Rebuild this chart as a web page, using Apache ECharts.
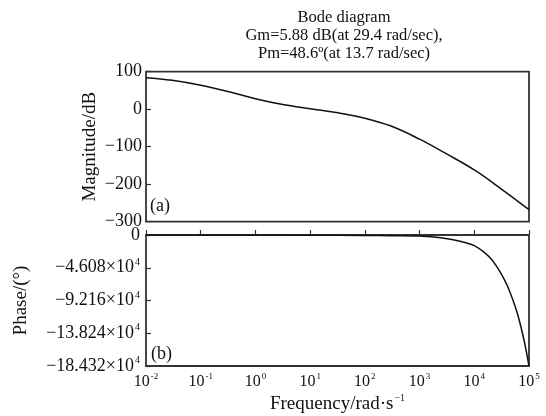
<!DOCTYPE html>
<html><head><meta charset="utf-8">
<script src="https://cdn.jsdelivr.net/npm/echarts@6/dist/echarts.min.js"></script>
<style>html,body{margin:0;padding:0;background:#fff}#c{width:546px;height:416px}</style>
</head><body><div id="c"></div>
<script>
var titleLines = ['Bode diagram', 'Gm=5.88 dB(at 29.4 rad/sec),', 'Pm=48.6\u00ba(at 13.7 rad/sec)'];
var magFreq = [0.01, 0.03, 0.1, 0.3, 1, 3, 10, 30, 100, 300, 1000, 3000, 10000, 30000, 100000];
var magDb   = [84, 77, 64, 48, 28, 13, 1, -9, -24, -45, -80, -118, -162, -211, -268];
var phFreq  = [0.01, 0.1, 1, 10, 100, 300, 1000, 2000, 3000, 5000, 7000, 10000, 15000, 20000, 25000, 30000, 40000, 50000, 60000, 70000, 80000, 90000, 100000];
var phDeg   = [0, 0, -60, -300, -700, -1000, -1500, -3200, -5000, -8200, -11000, -15000, -24000, -33000, -43000, -52500, -71000, -90000, -108000, -127000, -146000, -165000, -184320];
var magTicks = [-300, -200, -100, 0, 100];
var phTicks = [-184320, -138240, -92160, -46080, 0];
var phLabels = {'0': '0', '-46080': '\u22124.608', '-92160': '\u22129.216', '-138240': '\u221213.824', '-184320': '\u221218.432'};

var FONT = 'Liberation Serif';
var chart = echarts.init(document.getElementById('c'), null, {renderer: 'canvas'});
function expLabel(v) {
  var e = Math.round(Math.log10(v));
  return '{b|10}{s|' + (e < 0 ? '-' + (-e) : e) + '}';
}
var richX = {
  b: {fontFamily: FONT, fontSize: 16, color: '#111'},
  s: {fontFamily: FONT, fontSize: 9, color: '#111', padding: [0, 0, 10, 1]}
};
var richY = {
  b: {fontFamily: FONT, fontSize: 18, color: '#111'},
  s: {fontFamily: FONT, fontSize: 10, color: '#111', padding: [0, 0, 11, 1]}
};
var richN = {
  b: {fontFamily: FONT, fontSize: 19, color: '#111'},
  s: {fontFamily: FONT, fontSize: 10, color: '#111', padding: [0, 0, 12, 1]}
};
var gridBase = {left: 146, right: 17, show: true, borderColor: '#333', borderWidth: 1.8, backgroundColor: 'transparent'};
var tickStyle = {show: true, inside: true, length: 5, lineStyle: {color: '#333', width: 1.2}};
chart.setOption({
  animation: false,
  textStyle: {fontFamily: FONT},
  title: {
    text: titleLines.join('\n'), left: 339, top: 4, textAlign: 'center',
    textStyle: {fontFamily: FONT, fontSize: 16.5, fontWeight: 'normal', color: '#111', lineHeight: 18}
  },
  grid: [
    Object.assign({top: 71.7, height: 150}, gridBase),
    Object.assign({top: 235, height: 131}, gridBase)
  ],
  xAxis: [
    {type: 'log', logBase: 10, min: 0.01, max: 100000, gridIndex: 0,
     axisLine: {show: false}, axisTick: {show: false}, axisLabel: {show: false}, splitLine: {show: false}, minorTick: {show: false}},
    {type: 'log', logBase: 10, min: 0.01, max: 100000, gridIndex: 1,
     axisLine: {show: false}, axisTick: tickStyle,
     axisLabel: {formatter: expLabel, rich: richX, margin: 6, color: '#111'},
     splitLine: {show: false},
     name: '{b|Frequency/rad\u00b7s}{s|\u22121}', nameLocation: 'middle', nameGap: 27, nameMoveOverlap: false,
     nameTextStyle: {rich: richN}}
  ],
  yAxis: [
    {type: 'value', gridIndex: 0, min: -300, max: 100, interval: 100,
     axisLine: {show: false}, axisTick: tickStyle,
     axisLabel: {fontFamily: FONT, fontSize: 18, color: '#111', margin: 4,
                 formatter: function (v) { return String(v).replace('-', '\u2212'); }},
     splitLine: {show: false},
     name: 'Magnitude/dB', nameLocation: 'middle', nameGap: 46, nameMoveOverlap: false,
     nameTextStyle: {fontFamily: FONT, fontSize: 19, color: '#111'}},
    {type: 'value', gridIndex: 1, min: -184320, max: 0, interval: 46080,
     axisLine: {show: false}, axisTick: tickStyle,
     axisLabel: {margin: 6, color: '#111',
                 formatter: function (v) { var t = phLabels[String(Math.round(v))]; return v === 0 ? '{b|0}' : '{b|' + t + '\u00d710}{s|4}'; },
                 rich: richY},
     splitLine: {show: false},
     name: 'Phase/(\u00b0)', nameLocation: 'middle', nameGap: 115, nameMoveOverlap: false,
     nameTextStyle: {fontFamily: FONT, fontSize: 19, color: '#111'}}
  ],
  graphic: [
    {type: 'text', left: 150, top: 197, style: {text: '(a)', font: '18px "Liberation Serif"', fill: '#111'}},
    {type: 'text', left: 151, top: 345, style: {text: '(b)', font: '18px "Liberation Serif"', fill: '#111'}}
  ],
  series: [
    {type: 'line', xAxisIndex: 0, yAxisIndex: 0, showSymbol: false, smooth: 0.4,
     lineStyle: {color: '#111', width: 1.5},
     data: magFreq.map(function (f, i) { return [f, magDb[i]]; })},
    {type: 'line', xAxisIndex: 1, yAxisIndex: 1, showSymbol: false, smooth: 0.3,
     lineStyle: {color: '#111', width: 1.5},
     data: phFreq.map(function (f, i) { return [f, phDeg[i]]; })}
  ]
});
</script></body></html>
